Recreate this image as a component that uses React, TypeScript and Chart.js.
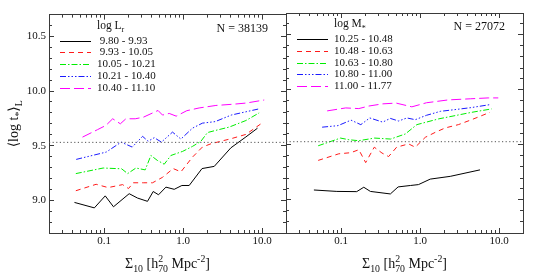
import React, { useEffect, useRef } from "react";
import { Chart, registerables } from "chart.js";

Chart.register(...registerables);

// ---- axes ----
const xRange = [0.02, 20];
const yRange = [8.7, 10.7];
const xMajorTicks = [0.1, 1, 10];
const xTickLabels = ["0.1", "1.0", "10.0"];
const xMinorTicks = [0.03, 0.04, 0.05, 0.06, 0.07, 0.08, 0.09, 0.2, 0.3, 0.4, 0.5, 0.6, 0.7, 0.8, 0.9, 2, 3, 4, 5, 6, 7, 8, 9];
const yMajorTicks = [9.0, 9.5, 10.0, 10.5];
const yTickLabels = ["9.0", "9.5", "10.0", "10.5"];
const yMinorTicks = [8.8, 8.9, 9.1, 9.2, 9.3, 9.4, 9.6, 9.7, 9.8, 9.9, 10.1, 10.2, 10.3, 10.4, 10.6];
const refLevel = 9.53;

// ---- left panel: luminosity bins ----
const lumX1 = [0.042, 0.075, 0.103, 0.131, 0.207, 0.264, 0.353, 0.417, 0.487, 0.604, 0.769, 0.962, 1.19, 1.73, 2.47, 4.01, 6.22, 8.72];
const lumY1 = [8.98, 8.93, 9.04, 8.94, 9.06, 9.02, 8.99, 9.08, 9.05, 9.12, 9.10, 9.135, 9.135, 9.29, 9.31, 9.48, 9.58, 9.66];
const lumX2 = [0.0437, 0.079, 0.112, 0.171, 0.203, 0.233, 0.312, 0.409, 0.547, 0.747, 0.935, 1.31, 1.75, 2.26, 4.01, 6.22, 9.63];
const lumY2 = [9.087, 9.146, 9.116, 9.143, 9.107, 9.16, 9.16, 9.16, 9.21, 9.29, 9.26, 9.395, 9.487, 9.518, 9.563, 9.603, 9.70];
const lumX3 = [0.0437, 0.097, 0.166, 0.198, 0.252, 0.33, 0.39, 0.47, 0.575, 0.699, 0.98, 1.31, 1.67, 2.03, 2.59, 3.82, 6.22, 9.15];
const lumY3 = [9.244, 9.295, 9.288, 9.244, 9.295, 9.278, 9.41, 9.365, 9.33, 9.41, 9.447, 9.493, 9.539, 9.62, 9.64, 9.67, 9.73, 9.80];
const lumX4 = [0.0442, 0.106, 0.164, 0.226, 0.306, 0.36, 0.43, 0.53, 0.732, 0.935, 1.31, 1.75, 2.54, 4.05, 6.22, 9.15];
const lumY4 = [9.374, 9.441, 9.532, 9.487, 9.585, 9.54, 9.573, 9.532, 9.624, 9.56, 9.66, 9.706, 9.72, 9.78, 9.81, 9.837];
const lumX5 = [0.0531, 0.082, 0.105, 0.128, 0.16, 0.188, 0.247, 0.312, 0.48, 0.547, 0.665, 0.815, 1.11, 1.59, 2.59, 4.42, 6.27, 10.6];
const lumY5 = [9.578, 9.646, 9.685, 9.746, 9.70, 9.746, 9.746, 9.76, 9.822, 9.78, 9.795, 9.77, 9.82, 9.845, 9.868, 9.88, 9.89, 9.918];
const lumBins = [" 9.80 - 9.93", " 9.93 - 10.05", "10.05 - 10.21", "10.21 - 10.40", "10.40 - 11.10"];
const lumCount = "N = 38139";

// ---- right panel: stellar mass bins ----
const masX1 = [0.0451, 0.088, 0.157, 0.193, 0.234, 0.419, 0.525, 0.755, 0.95, 1.34, 2.4, 5.71];
const masY1 = [9.091, 9.078, 9.076, 9.116, 9.078, 9.055, 9.119, 9.132, 9.14, 9.19, 9.215, 9.274];
const masX2 = [0.0511, 0.0933, 0.132, 0.167, 0.204, 0.262, 0.328, 0.398, 0.503, 0.712, 0.865, 1.16, 1.55, 2.07, 3.04, 4.47, 7.63];
const masY2 = [9.36, 9.42, 9.43, 9.457, 9.34, 9.48, 9.427, 9.395, 9.48, 9.51, 9.48, 9.57, 9.615, 9.655, 9.685, 9.73, 9.797];
const masX3 = [0.0511, 0.098, 0.125, 0.167, 0.265, 0.422, 0.647, 0.906, 1.7, 2.76, 4.47, 8.0];
const masY3 = [9.493, 9.563, 9.548, 9.539, 9.563, 9.554, 9.60, 9.685, 9.737, 9.767, 9.797, 9.828];
const masX4 = [0.0573, 0.091, 0.133, 0.177, 0.23, 0.335, 0.418, 0.533, 0.678, 0.865, 1.2, 1.8, 2.63, 4.43, 7.8];
const masY4 = [9.662, 9.676, 9.726, 9.685, 9.746, 9.708, 9.742, 9.718, 9.746, 9.73, 9.77, 9.806, 9.82, 9.84, 9.868];
const masX5 = [0.0664, 0.114, 0.167, 0.223, 0.335, 0.496, 0.784, 1.2, 2.27, 4.3, 7.25, 9.73];
const masY5 = [9.81, 9.837, 9.831, 9.854, 9.874, 9.881, 9.847, 9.884, 9.91, 9.92, 9.928, 9.928];
const massBins = ["10.25 - 10.48", "10.48 - 10.63", "10.63 - 10.80", "10.80 - 11.00", "11.00 - 11.77"];
const massCount = "N = 27072";

// ---- styles ----
const seriesColors = ["#000000", "#ff1a1a", "#00ee00", "#1a1aff", "#ff00ff"];
const seriesDash: number[][] = [[], [5, 4], [6, 2, 1.5, 2], [6, 2, 1.5, 2, 1.5, 2, 1.5, 2], [10, 4]];
const AXIS = "#3a3a3a";
const TEXT = "#111111";
const FONT = "'Liberation Serif', 'DejaVu Serif', serif";

type Part = { t: string; k?: "sub" | "sup"; stack?: boolean };

function drawRich(ctx: CanvasRenderingContext2D, parts: Part[], x: number, y: number, size: number, align: "left" | "center" | "right") {
  const small = size * 0.7;
  const widths = parts.map((p) => {
    ctx.font = `${p.k ? small : size}px ${FONT}`;
    return ctx.measureText(p.t).width;
  });
  const adv = parts.map((p, i) => {
    if (p.stack) return 0;
    let a = widths[i];
    if (i > 0 && parts[i - 1].stack) a = Math.max(a, widths[i - 1]);
    return a;
  });
  const total = adv.reduce((a, b) => a + b, 0);
  let cx = align === "left" ? x : align === "center" ? x - total / 2 : x - total;
  ctx.textAlign = "left";
  ctx.textBaseline = "alphabetic";
  ctx.fillStyle = TEXT;
  parts.forEach((p, i) => {
    ctx.font = `${p.k ? small : size}px ${FONT}`;
    const dy = p.k === "sub" ? size * 0.28 : p.k === "sup" ? -size * 0.4 : 0;
    ctx.fillText(p.t, cx, y + dy);
    cx += adv[i];
  });
}

const xTitle: Part[] = [
  { t: "Σ" }, { t: "10", k: "sub" }, { t: " [h" }, { t: "2", k: "sup", stack: true }, { t: "70", k: "sub" },
  { t: " Mpc" }, { t: "-2", k: "sup" }, { t: "]" },
];
const yTitle: Part[] = [{ t: "⟨log t" }, { t: "*", k: "sub" }, { t: "⟩" }, { t: "L", k: "sub" }];

type PanelCfg = {
  xs: number[][];
  ys: number[][];
  bins: string[];
  legendTitle: Part[];
  count: string;
  showYLabels: boolean;
  drawYTitle: boolean;
  padLeft: number;
  padRight: number;
  yAxisWidth: number;
};

function logAxis(position: string, ticks: number[], labels: string[] | null, len: number, weight: number, size: number, border: boolean) {
  return {
    type: "logarithmic",
    position,
    min: xRange[0],
    max: xRange[1],
    bounds: "data",
    weight,
    afterBuildTicks: (s: any) => {
      s.ticks = ticks.map((v) => ({ value: v }));
    },
    afterFit: (s: any) => {
      s.height = size;
    },
    ticks: {
      display: !!labels,
      autoSkip: false,
      maxRotation: 0,
      padding: 7,
      color: TEXT,
      font: { family: FONT, size: 11 },
      callback: (_v: any, i: number) => (labels ? labels[i] : ""),
    },
    grid: { display: true, drawOnChartArea: false, drawTicks: true, tickLength: -len, color: AXIS, lineWidth: 1 },
    border: { display: border, color: AXIS, width: 1 },
  };
}

function linAxis(position: string, ticks: number[], labels: string[] | null, len: number, weight: number, size: number, border: boolean) {
  return {
    type: "linear",
    position,
    min: yRange[0],
    max: yRange[1],
    bounds: "data",
    weight,
    afterBuildTicks: (s: any) => {
      s.ticks = ticks.map((v) => ({ value: v }));
    },
    afterFit: (s: any) => {
      s.width = size;
    },
    ticks: {
      display: !!labels,
      autoSkip: false,
      padding: 8,
      color: TEXT,
      font: { family: FONT, size: 11 },
      callback: (_v: any, i: number) => (labels ? labels[i] : ""),
    },
    grid: { display: true, drawOnChartArea: false, drawTicks: true, tickLength: -len, color: AXIS, lineWidth: 1 },
    border: { display: border, color: AXIS, width: 1 },
  };
}

function buildConfig(cfg: PanelCfg): any {
  const datasets: any[] = [
    {
      data: [
        { x: xRange[0], y: refLevel },
        { x: xRange[1], y: refLevel },
      ],
      borderColor: "#555555",
      borderWidth: 1,
      borderDash: [1.2, 2.4],
      pointRadius: 0,
      xAxisID: "x",
      yAxisID: "y",
    },
  ];
  cfg.xs.forEach((xa, si) => {
    datasets.push({
      data: xa.map((x, i) => ({ x, y: cfg.ys[si][i] })),
      borderColor: seriesColors[si],
      borderWidth: 1,
      borderDash: seriesDash[si],
      pointRadius: 0,
      tension: 0,
      fill: false,
      xAxisID: "x",
      yAxisID: "y",
    });
  });

  const overlay = {
    id: "overlay",
    afterDraw(chart: any) {
      const ctx: CanvasRenderingContext2D = chart.ctx;
      const ca = chart.chartArea;
      ctx.save();
      // legend title
      drawRich(ctx, cfg.legendTitle, ca.left + 48, ca.top + 14.3, 11.5, "left");
      // legend rows
      cfg.bins.forEach((label, i) => {
        const ry = Math.round(ca.top + 26 + 11.75 * i) + 0.5;
        ctx.beginPath();
        ctx.setLineDash(seriesDash[i]);
        ctx.strokeStyle = seriesColors[i];
        ctx.lineWidth = 1;
        ctx.moveTo(ca.left + 11, ry);
        ctx.lineTo(ca.left + 42, ry);
        ctx.stroke();
        ctx.setLineDash([]);
        drawRich(ctx, [{ t: label }], ca.left + 48, ry + 2, 11, "left");
      });
      // count
      drawRich(ctx, [{ t: cfg.count }], ca.right - 18, ca.top + 17, 12, "right");
      // x title
      drawRich(ctx, xTitle, (ca.left + ca.right) / 2, ca.bottom + 35, 14, "center");
      // y title
      if (cfg.drawYTitle) {
        ctx.translate(18, (ca.top + ca.bottom) / 2);
        ctx.rotate(-Math.PI / 2);
        drawRich(ctx, yTitle, 0, 0, 14, "center");
      }
      ctx.restore();
    },
  };

  return {
    type: "line",
    data: { datasets },
    plugins: [overlay],
    options: {
      animation: false,
      responsive: false,
      devicePixelRatio: 1,
      events: [],
      layout: { padding: { left: cfg.padLeft, right: cfg.padRight, top: 13, bottom: 0 } },
      plugins: { legend: { display: false }, tooltip: { enabled: false }, title: { display: false } },
      scales: {
        x: logAxis("bottom", xMajorTicks, xTickLabels, 5, 1, 42, true),
        xMinor: logAxis("bottom", xMinorTicks, null, 3, 0, 0, false),
        xTop: logAxis("top", xMajorTicks, null, 5, 1, 0, true),
        xTopMinor: logAxis("top", xMinorTicks, null, 3, 0, 0, false),
        y: linAxis("left", yMajorTicks, cfg.showYLabels ? yTickLabels : null, 5, 1, cfg.yAxisWidth, true),
        yMinor: linAxis("left", yMinorTicks, null, 3, 0, 0, false),
        yRight: linAxis("right", yMajorTicks, null, 5, 1, 0, true),
        yRightMinor: linAxis("right", yMinorTicks, null, 3, 0, 0, false),
      },
    },
  };
}

function Panel({ left, width, cfg }: { left: number; width: number; cfg: PanelCfg }) {
  const ref = useRef<HTMLCanvasElement>(null);
  useEffect(() => {
    const chart = new Chart(ref.current as HTMLCanvasElement, buildConfig(cfg));
    return () => chart.destroy();
  }, []);
  return (
    <canvas
      ref={ref}
      width={width}
      height={275}
      style={{ position: "absolute", left, top: 0, width, height: 275 }}
    />
  );
}

const leftCfg: PanelCfg = {
  xs: [lumX1, lumX2, lumX3, lumX4, lumX5],
  ys: [lumY1, lumY2, lumY3, lumY4, lumY5],
  bins: lumBins,
  legendTitle: [{ t: "log L" }, { t: "r", k: "sub" }],
  count: lumCount,
  showYLabels: true,
  drawYTitle: true,
  padLeft: 0,
  padRight: 1,
  yAxisWidth: 49,
};

const rightCfg: PanelCfg = {
  xs: [masX1, masX2, masX3, masX4, masX5],
  ys: [masY1, masY2, masY3, masY4, masY5],
  bins: massBins,
  legendTitle: [{ t: "log M" }, { t: "*", k: "sub" }],
  count: massCount,
  showYLabels: false,
  drawYTitle: false,
  padLeft: 6,
  padRight: 28,
  yAxisWidth: 0,
};

export default function App() {
  return (
    <div style={{ position: "fixed", left: 0, top: 0, width: 551, height: 275, background: "#ffffff", overflow: "hidden" }}>
      <Panel left={0} width={287} cfg={leftCfg} />
      <Panel left={280} width={271} cfg={rightCfg} />
    </div>
  );
}
